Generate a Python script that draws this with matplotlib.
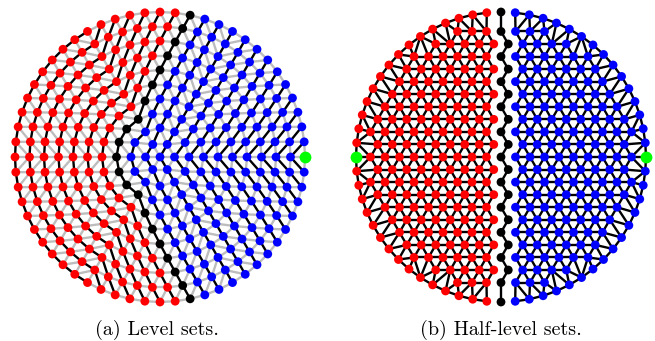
import numpy as np
import matplotlib
matplotlib.use("Agg")
import matplotlib.pyplot as plt
import matplotlib.tri as mtri
from matplotlib.collections import LineCollection
from collections import deque

# (a) concentric rings mesh, 6*k points on ring k
n_rings = 10
pts_per_ring_step = 6
level_ref = (3, np.pi)        # black level = level of node on ring 3 at the far left

# (b) lattice mesh with boundary ring, two sources on the horizontal axis
lattice_step = 0.1
n_boundary = 64
half_level_band = [0, 1]      # d(left) - d(right) counted as black

colors = {"far": "#ff0000", "near": "#0000ff", "mid": "#000000", "src": "#00ff00"}
captions = ["(a) Level sets.", "(b) Half-level sets."]


def bfs(n, edges, src):
    adj = [[] for _ in range(n)]
    for a, b in edges:
        adj[a].append(b)
        adj[b].append(a)
    d = np.full(n, -1)
    d[src] = 0
    q = deque([src])
    while q:
        u = q.popleft()
        for v in adj[u]:
            if d[v] < 0:
                d[v] = d[u] + 1
                q.append(v)
    return d


def nearest(x, y, px, py):
    return int(np.argmin((x - px) ** 2 + (y - py) ** 2))


# ---- mesh (a)
xa, ya = [0.0], [0.0]
for k in range(1, n_rings + 1):
    m = pts_per_ring_step * k
    t = 2 * np.pi * np.arange(m) / m
    xa += list(k / n_rings * np.cos(t))
    ya += list(k / n_rings * np.sin(t))
xa, ya = np.array(xa), np.array(ya)
tri_a = mtri.Triangulation(xa, ya)
ea = tri_a.edges
src_a = nearest(xa, ya, 1.0, 0.0)
da = bfs(len(xa), ea, src_a)
r, ang = level_ref
L = da[nearest(xa, ya, r / n_rings * np.cos(ang), r / n_rings * np.sin(ang))]

# ---- mesh (b)
xb, yb = [], []
dy = lattice_step * np.sqrt(3) / 2
for j in range(-12, 13):
    off = 0.5 * lattice_step if j % 2 else 0.0
    for i in range(-12, 13):
        x = i * lattice_step + off
        y = j * dy
        if np.hypot(x, y) < 1 - 0.6 * lattice_step:
            xb.append(x)
            yb.append(y)
t = 2 * np.pi * np.arange(n_boundary) / n_boundary
xb = np.array(xb + list(np.cos(t)))
yb = np.array(yb + list(np.sin(t)))
tri_b = mtri.Triangulation(xb, yb)
eb = tri_b.edges
srcL = nearest(xb, yb, -1.0, 0.0)
srcR = nearest(xb, yb, 1.0, 0.0)
diff = bfs(len(xb), eb, srcL) - bfs(len(xb), eb, srcR)
cls_b = np.where(diff < half_level_band[0], 0, np.where(diff > half_level_band[1], 2, 1))

fig = plt.figure(figsize=(6.55, 3.41), dpi=100)
W, H = 655, 341
R = 145
lim = 1.1
size = 2 * lim * R


def make_ax(cx, cy):
    ax = fig.add_axes([(cx - size / 2) / W, (H - cy - size / 2) / H, size / W, size / H])
    ax.set_xlim(-lim, lim)
    ax.set_ylim(-lim, lim)
    ax.set_aspect("equal")
    ax.axis("off")
    return ax


# panel (a)
ax = make_ax(160, 157)
same = da[ea[:, 0]] == da[ea[:, 1]]
segs = np.stack([np.c_[xa[ea[:, 0]], ya[ea[:, 0]]], np.c_[xa[ea[:, 1]], ya[ea[:, 1]]]], axis=1)
ax.add_collection(LineCollection(segs[~same], colors="#bdbdbd", linewidths=1.7, zorder=1))
ax.add_collection(LineCollection(segs[same], colors="black", linewidths=1.7, zorder=2))
col = np.where(da > L, colors["far"], np.where(da < L, colors["near"], colors["mid"]))
ax.scatter(xa, ya, s=40, c=col, linewidths=0, zorder=3)
ax.scatter([xa[src_a]], [ya[src_a]], s=72, c=colors["src"], linewidths=0, zorder=4)

# panel (b)
ax = make_ax(501, 157)
same = cls_b[eb[:, 0]] == cls_b[eb[:, 1]]
segs = np.stack([np.c_[xb[eb[:, 0]], yb[eb[:, 0]]], np.c_[xb[eb[:, 1]], yb[eb[:, 1]]]], axis=1)
ax.add_collection(LineCollection(segs[same], colors="black", linewidths=1.7, zorder=2))
col = np.array([colors["far"], colors["mid"], colors["near"]])[cls_b]
ax.scatter(xb, yb, s=40, c=col, linewidths=0, zorder=3)
ax.scatter(xb[[srcL, srcR]], yb[[srcL, srcR]], s=72, c=colors["src"], linewidths=0, zorder=4)

fig.text(157 / W, 6 / H, captions[0], ha="center", va="baseline", fontfamily="cmr10", fontsize=14.5)
fig.text(501 / W, 6 / H, captions[1], ha="center", va="baseline", fontfamily="cmr10", fontsize=14.5)

fig.savefig("out.png", dpi=100)
